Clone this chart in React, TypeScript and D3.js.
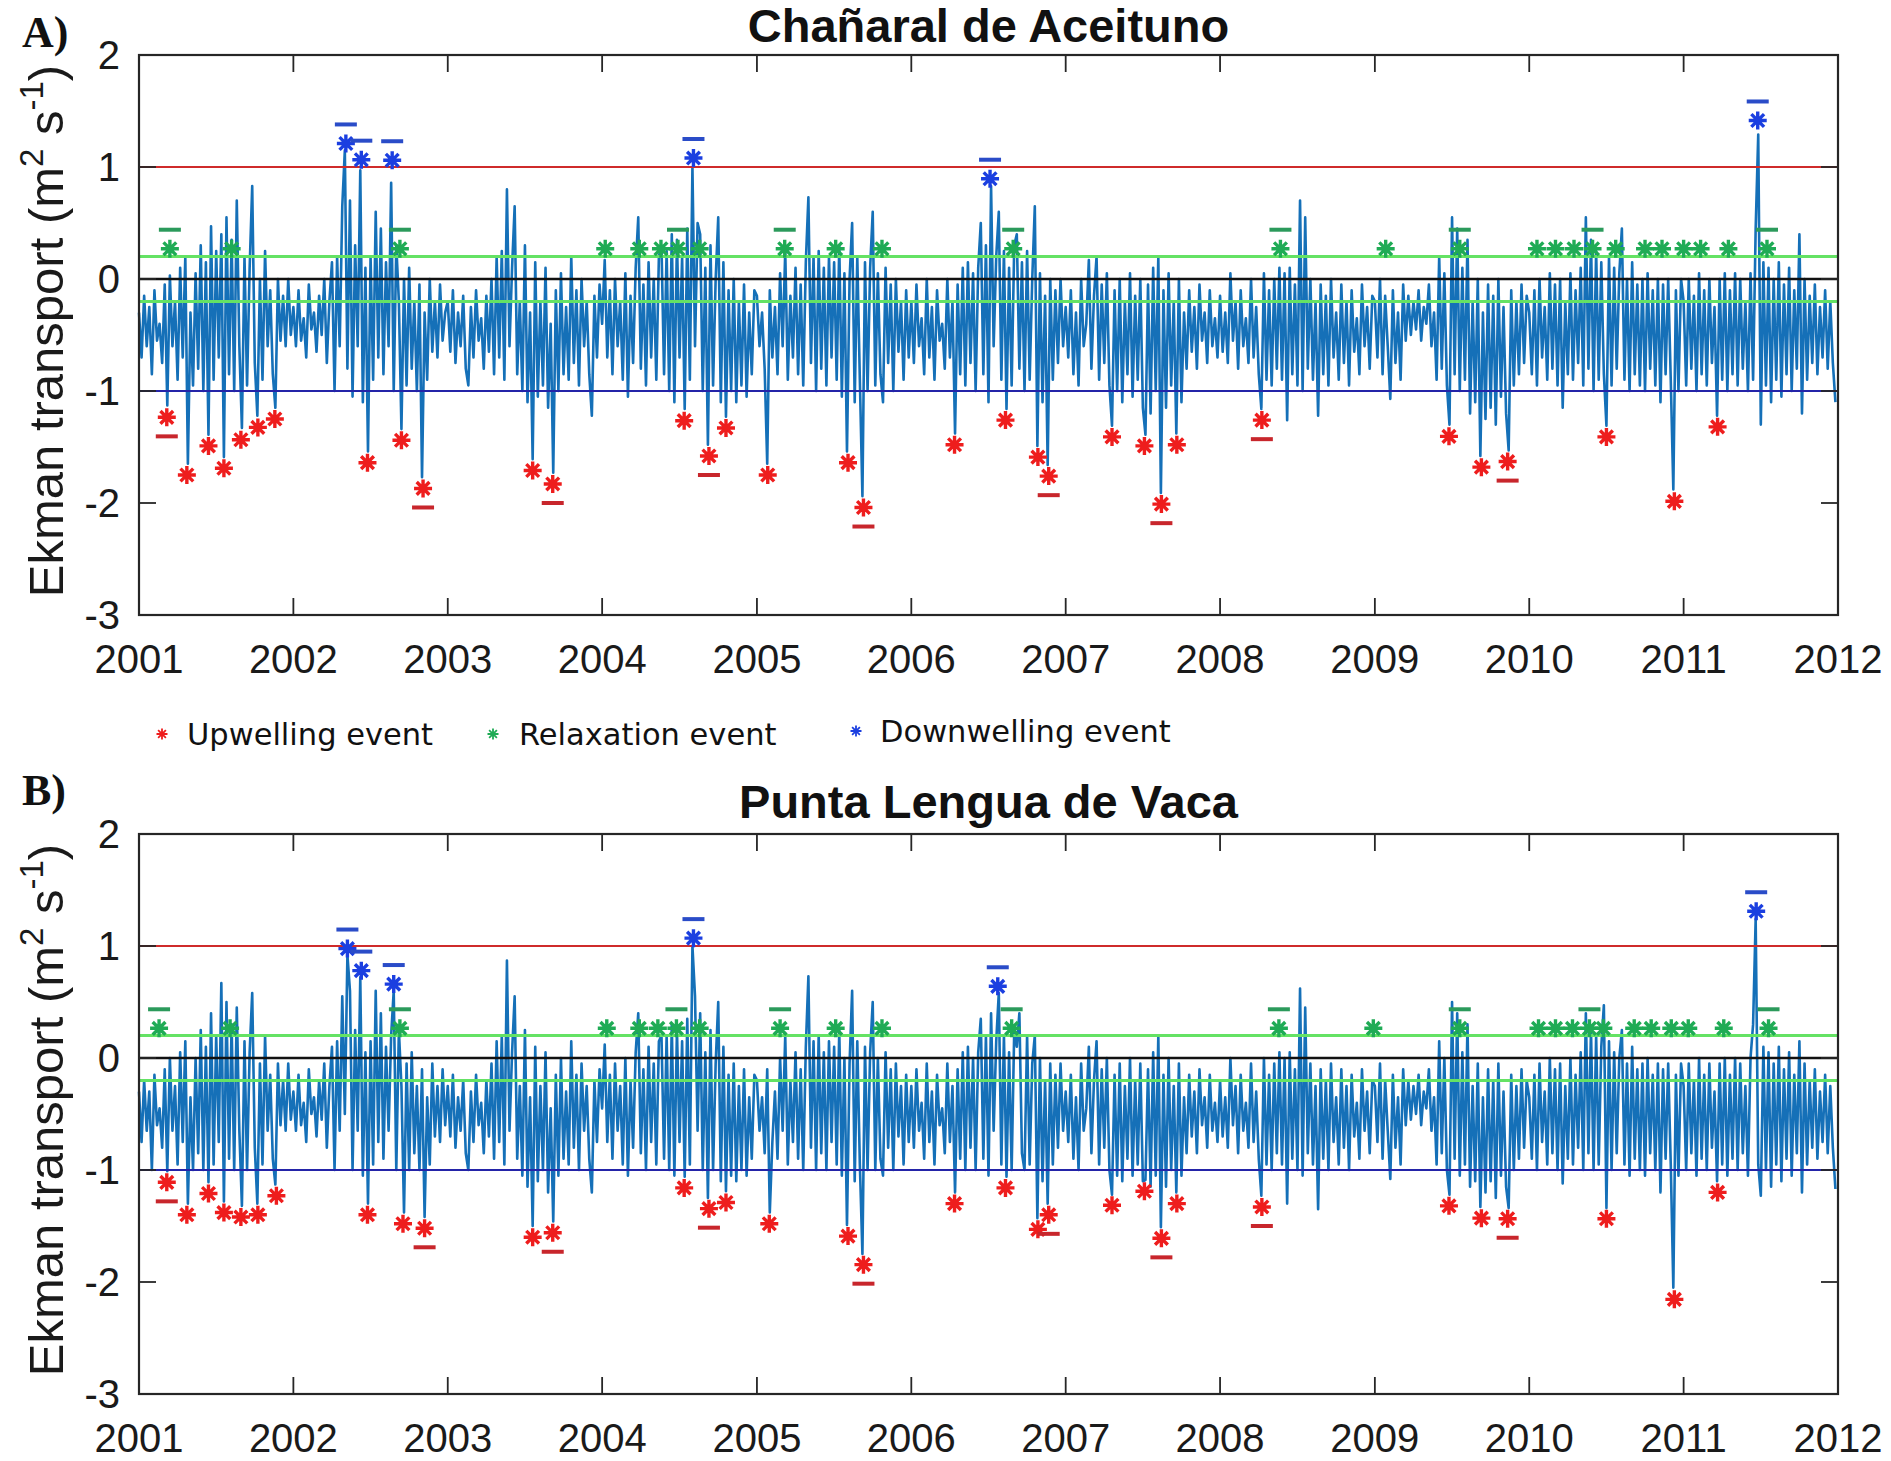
import React, { useRef, useEffect } from 'react'
import * as d3 from 'd3'

// Ekman transport, one value every 1/60 year (about 6 days), hundredths of m2 s-1
const chanaral: number[][] = [
  [-30,-70,-15,-60,-25,-85,-10,-55,-40,-75,-5,-113,3,-60,-20,-90,10,-70,20,-165,-30,-95,5,-80,30,-100,15,-139,47,-90,25,-70,40,-159,55,-85,35,-100,70,-60,-133,20,-95,10,83,-75,-122,0,-90,25,-60,-10,-85,-115,0,-55,-15,-60,0,-50],
  [-25,-60,-10,-55,-35,-70,-5,-45,-30,-65,-15,-50,0,-75,-20,15,-100,20,-60,65,115,-80,70,-105,30,-60,97,-110,10,-154,20,-90,60,-70,45,-85,15,-60,86,-100,30,-20,-134,0,-95,10,-80,-20,-100,-5,-177,-30,-90,0,-65,-20,-70,-5,-55,-30],
  [-20,-65,-10,-75,-30,-60,-15,-80,-95,-25,-70,-10,-55,-35,-80,-15,-65,0,-85,20,-70,25,-90,80,-60,10,65,-85,-20,-100,30,-110,-30,-161,15,-105,-20,-95,10,-115,-40,-173,-10,-100,5,-85,-25,-90,20,-75,-10,-95,0,-60,-20,-85,-122,-15,-70,-5],
  [-40,17,-70,-10,-85,0,-60,-20,-90,5,-105,-15,-75,10,55,-80,-5,-95,15,-70,0,-90,20,30,-85,25,-100,40,-110,35,-70,20,-116,45,-90,100,-60,50,40,-100,10,-148,30,-95,0,55,-110,15,-123,-10,-100,0,-110,-20,-95,-5,-105,-30,-85,-10],
  [-15,-60,-30,-80,-165,-10,-70,-25,-85,5,-60,25,-90,-15,-70,10,-85,-5,-95,15,73,-75,20,-100,25,-80,10,-95,20,-70,15,-90,30,-105,5,-154,0,50,-110,20,-90,-194,15,-100,10,60,-95,5,-85,-110,10,-75,-5,-100,0,-65,-20,-90,-10,-70],
  [-20,-75,-5,-60,-35,-85,0,-70,-25,-90,-10,-55,-40,-80,0,-70,-20,-138,-5,-85,10,-95,15,-75,5,-100,10,50,-85,30,-110,83,-60,20,60,-90,25,-116,10,-95,30,40,-80,15,-100,25,-90,0,65,-149,5,-110,-15,-166,0,-90,-10,-75,0,-60],
  [-25,-70,-10,-85,-30,-95,0,-60,-40,17,-80,-15,20,-90,-5,-75,5,-95,-131,-10,-100,0,-110,-20,-85,5,-105,-15,-90,0,-115,-139,-5,-120,10,-100,20,-191,-10,-115,5,-95,-20,-138,0,-110,-30,-80,-10,-65,-25,-80,-5,-55,-30,-75,-10,-60,-35,-70],
  [-15,-65,-30,-75,5,-55,-20,-80,-10,-60,-35,-75,0,-70,-25,-85,-116,5,-90,-10,-95,0,-80,10,-90,5,-126,10,-85,-5,-95,70,-100,55,-80,0,-90,-20,-122,-5,-85,-15,-95,0,-70,-30,-90,-5,-75,-20,-95,-10,-65,-35,-85,-5,-60,-25,-80,-15],
  [-20,-70,0,-85,-15,-60,-107,-10,-75,-30,-90,-5,-55,-15,-50,-20,-45,-10,-55,-25,-40,-5,-60,-30,-90,20,-80,5,-95,-130,55,-85,45,-100,10,-90,35,-120,-20,-110,0,-158,-30,-125,-5,-115,-15,-130,0,-105,-25,-120,-153,-10,-95,-20,-85,-5,-75,-15],
  [-30,-85,-10,-95,0,-70,-25,-90,5,-80,-5,-95,0,-115,-20,-85,5,-90,-10,-75,10,-95,55,-80,35,-100,25,-90,15,-85,-131,20,-95,10,-80,5,45,-90,0,-100,15,-85,-5,-95,0,-100,5,-80,-10,-95,0,-110,-5,-85,0,-90,-188,-10,-100,0],
  [-20,-95,0,-80,-15,-100,5,-85,-10,-95,0,-75,-25,-122,0,-90,5,-100,-10,-85,5,-95,0,-80,-20,-100,5,-90,45,129,-130,15,-95,10,-110,0,-90,15,-105,-5,-85,10,-100,-10,-80,40,-120,0,-90,-15,-75,-5,-85,-25,-70,-10,-80,-20,-75,-110],
]

const lenguaVaca: number[][] = [
  [-30,-75,-20,-65,-30,-100,-15,-60,-45,-80,-10,-101,0,-65,-25,-95,5,-75,15,-130,-35,-100,0,-85,25,-100,10,-111,40,-95,20,-75,67,-128,50,-90,30,-100,45,-65,-132,15,-100,5,58,-80,-130,-5,-95,20,-65,-15,-90,-113,-5,-60,-20,-65,-5,-55],
  [-30,-65,-15,-60,-40,-75,-10,-50,-35,-70,-20,-55,-5,-80,-25,10,-100,15,-65,55,-50,92,60,-100,25,-65,72,-105,5,-130,15,-95,60,-75,40,-90,10,-65,20,60,-100,25,-25,-138,-5,-100,5,-85,-25,-100,-10,-142,-35,-95,-5,-70,-25,-75,-10,-60],
  [-25,-70,-15,-80,-35,-65,-20,-85,-100,-30,-75,-15,-60,-40,-85,-20,-70,-5,-90,15,-75,20,-95,87,-65,5,55,-90,-25,-105,25,-115,-35,-150,10,-110,-25,-100,5,-120,-45,-146,-15,-105,0,-90,-30,-95,15,-80,-15,-100,-5,-65,-25,-90,-120,-20,-75,-10],
  [-45,12,-75,-15,-90,-5,-65,-25,-95,0,-105,-20,-80,5,40,-85,-10,-100,10,-75,-5,-95,15,20,-90,20,-100,30,-105,25,-75,15,-106,35,-95,100,55,-65,40,-100,5,-125,25,-100,-5,50,-110,10,-119,-15,-105,-5,-110,-25,-100,-10,-105,-35,-90,-15],
  [-20,-65,-35,-85,-10,-138,-75,-30,-90,0,-65,20,-95,-20,-75,5,-90,-10,-100,10,73,-80,15,-100,20,-85,5,-100,15,-75,10,-95,25,-105,0,-149,-5,60,-110,15,-95,-175,10,-100,5,50,-100,0,-90,-105,5,-80,-10,-100,-5,-70,-25,-95,-15,-75],
  [-25,-80,-10,-65,-40,-90,-5,-75,-30,-95,-15,-60,-45,-85,-5,-75,-25,-120,-10,-90,5,-100,10,-80,0,-100,5,35,-90,20,-105,40,-65,15,58,-95,20,-106,5,-100,25,10,40,-85,-100,20,-95,-5,20,-143,0,-110,-20,-130,-5,-95,-15,-80,-5,-65],
  [-30,-75,-15,-90,-35,-100,-5,-65,-45,10,-85,-20,15,-95,-10,-80,0,-100,-122,-15,-105,-5,-110,-25,-90,0,-105,-20,-95,-5,-110,-109,-10,-115,5,-105,20,-151,-15,-115,0,-100,-25,-120,-5,-105,-35,-85,-15,-70,-30,-85,-10,-60,-35,-80,-15,-65,-40,-75],
  [-20,-70,-35,-80,0,-60,-25,-85,-15,-65,-40,-80,-5,-75,-30,-90,-123,0,-95,-15,-100,-5,-85,5,-95,0,-130,5,-90,-10,-100,62,-105,45,-85,-5,-95,-25,-135,-10,-90,-20,-100,-5,-75,-35,-95,-10,-80,-25,-100,-15,-70,-40,-90,-10,-65,-30,-85,-20],
  [-25,-75,-5,-90,-20,-65,-108,-15,-80,-35,-95,-10,-60,-20,-55,-25,-50,-15,-60,-30,-45,-10,-65,-35,-95,15,-85,0,-100,-122,50,-90,40,-105,5,-95,30,-115,-25,-110,-5,-133,-35,-120,-10,-110,-20,-125,-5,-105,-30,-115,-134,-15,-100,-25,-90,-10,-80,-20],
  [-35,-90,-15,-100,-5,-75,-30,-95,0,-85,-10,-100,-5,-112,-25,-90,0,-95,-15,-80,5,-100,40,-85,25,-100,20,-95,10,47,-134,15,-100,5,-85,0,25,-95,-5,-105,10,-90,-10,-100,-5,-105,0,-85,-15,-100,-5,-120,-10,-90,-5,-95,-205,-15,-105,-5],
  [-25,-100,-5,-85,-20,-105,0,-90,-15,-100,-5,-80,-30,-110,-5,-95,0,-105,-15,-90,0,-100,-5,-85,-25,-105,0,30,124,-95,-123,10,-100,5,-115,-5,-95,10,-110,-10,-90,5,-105,-15,-85,15,-120,-5,-95,-20,-80,-10,-90,-30,-75,-15,-85,-25,-80,-117],
]

// events: [decimal year, marker level, flagged with a bar (1) or not (0)]
const upwellingA: number[][] = [
  [2001.18,-1.235,1],[2001.31,-1.75,0],[2001.45,-1.49,0],[2001.55,-1.69,0],[2001.66,-1.435,0],[2001.77,-1.325,0],[2001.88,-1.25,0],
  [2002.48,-1.64,0],[2002.70,-1.44,0],[2002.84,-1.87,1],[2003.55,-1.71,0],[2003.68,-1.83,1],
  [2004.53,-1.265,0],[2004.69,-1.58,1],[2004.80,-1.33,0],[2005.07,-1.75,0],[2005.59,-1.64,0],[2005.69,-2.04,1],
  [2006.28,-1.48,0],[2006.61,-1.26,0],[2006.82,-1.59,0],[2006.89,-1.76,1],
  [2007.30,-1.41,0],[2007.51,-1.49,0],[2007.62,-2.01,1],[2007.72,-1.48,0],[2008.27,-1.26,1],
  [2009.48,-1.405,0],[2009.69,-1.68,0],[2009.86,-1.63,1],[2010.50,-1.41,0],[2010.94,-1.985,0],[2011.22,-1.32,0],
]
const relaxationA: number[][] = [
  [2001.20,0.27,1],[2001.60,0.27,0],[2002.69,0.27,1],[2004.02,0.27,0],[2004.24,0.27,0],[2004.38,0.27,0],[2004.49,0.27,1],
  [2004.63,0.27,0],[2005.18,0.27,1],[2005.51,0.27,0],[2005.81,0.27,0],[2006.66,0.27,1],[2008.39,0.27,1],[2009.07,0.27,0],
  [2009.55,0.27,1],[2010.05,0.27,0],[2010.17,0.27,0],[2010.29,0.27,0],[2010.41,0.27,1],[2010.56,0.27,0],[2010.75,0.27,0],
  [2010.86,0.27,0],[2011.00,0.27,0],[2011.11,0.27,0],[2011.29,0.27,0],[2011.54,0.27,1],
]
const downwellingA: number[][] = [
  [2002.34,1.21,1],[2002.44,1.065,1],[2002.64,1.06,1],[2004.59,1.08,1],[2006.51,0.895,1],[2011.48,1.415,1],
]

const upwellingB: number[][] = [
  [2001.18,-1.11,1],[2001.31,-1.40,0],[2001.45,-1.21,0],[2001.55,-1.38,0],[2001.66,-1.42,0],[2001.77,-1.40,0],[2001.89,-1.23,0],
  [2002.48,-1.40,0],[2002.71,-1.48,0],[2002.85,-1.52,1],[2003.55,-1.60,0],[2003.68,-1.56,1],
  [2004.53,-1.16,0],[2004.69,-1.345,1],[2004.80,-1.29,0],[2005.08,-1.48,0],[2005.59,-1.59,0],[2005.69,-1.845,1],
  [2006.28,-1.30,0],[2006.61,-1.16,0],[2006.82,-1.53,0],[2006.89,-1.40,1],
  [2007.30,-1.315,0],[2007.51,-1.19,0],[2007.62,-1.61,1],[2007.72,-1.30,0],[2008.27,-1.33,1],
  [2009.48,-1.32,0],[2009.69,-1.43,0],[2009.86,-1.435,1],[2010.50,-1.435,0],[2010.94,-2.155,0],[2011.22,-1.20,0],
]
const relaxationB: number[][] = [
  [2001.13,0.265,1],[2001.59,0.265,0],[2002.69,0.265,1],[2004.03,0.265,0],[2004.24,0.265,0],[2004.36,0.265,0],[2004.48,0.265,1],
  [2004.63,0.265,0],[2005.15,0.265,1],[2005.51,0.265,0],[2005.81,0.265,0],[2006.65,0.265,1],[2008.38,0.265,1],[2008.99,0.265,0],
  [2009.55,0.265,1],[2010.06,0.265,0],[2010.17,0.265,0],[2010.28,0.265,0],[2010.39,0.265,1],[2010.48,0.265,0],[2010.68,0.265,0],
  [2010.79,0.265,0],[2010.92,0.265,0],[2011.03,0.265,0],[2011.26,0.265,0],[2011.55,0.265,1],
]
const downwellingB: number[][] = [
  [2002.35,0.977,1],[2002.44,0.78,1],[2002.65,0.66,1],[2004.59,1.07,1],[2006.56,0.64,1],[2011.47,1.31,1],
]

const yearTicks = [2001, 2002, 2003, 2004, 2005, 2006, 2007, 2008, 2009, 2010, 2011, 2012]
const valueTicks = [2, 1, 0, -1, -2, -3]
const refLevels = [1, 0.2, 0, -0.2, -1]
const legendLabels = ['Upwelling event', 'Relaxation event', 'Downwelling event']

const W = 1891
const H = 1461
const LEFT = 139
const RIGHT = 1838
const PLOT_H = 560
const BAR_OFFSET = 0.17

const C = {
  series: '#1570b8',
  axis: '#262626',
  up: '#ee1d1d',
  upBar: '#c8262c',
  relax: '#1fab55',
  relaxBar: '#2b9a5b',
  down: '#1b3fe0',
  downBar: '#2a4cc8',
}
const refStyle = [
  { color: '#cf2b2b', width: 2 },
  { color: '#64e264', width: 3 },
  { color: '#111111', width: 2.4 },
  { color: '#64e264', width: 3 },
  { color: '#2424a8', width: 2 },
]

const SANS = '"Liberation Sans", Arial, Helvetica, sans-serif'

const toDate = (yr: number) => {
  const Y = Math.floor(yr)
  const a = Date.UTC(Y, 0, 1)
  const b = Date.UTC(Y + 1, 0, 1)
  return new Date(a + (yr - Y) * (b - a))
}

// MATLAB-like '*' marker: plus and cross
const asterisk = (r: number) => {
  const d = r * Math.SQRT1_2
  return `M${-r},0H${r}M0,${-r}V${r}M${-d},${-d}L${d},${d}M${-d},${d}L${d},${-d}`
}

const panels = [
  { tag: 'A)', tagY: 47, title: 'Chañaral de Aceituno', titleY: 42, top: 55, series: chanaral, up: upwellingA, relax: relaxationA, down: downwellingA },
  { tag: 'B)', tagY: 805, title: 'Punta Lengua de Vaca', titleY: 818, top: 834, series: lenguaVaca, up: upwellingB, relax: relaxationB, down: downwellingB },
]

const App: React.FC = () => {
  const svgRef = useRef<SVGSVGElement>(null)

  useEffect(() => {
    const svg = d3.select(svgRef.current!)
    svg.selectAll('*').remove()
    svg.attr('viewBox', `0 0 ${W} ${H}`)
    svg.append('rect').attr('width', W).attr('height', H).attr('fill', '#fff')

    const x = d3
      .scaleUtc()
      .domain([toDate(yearTicks[0]), toDate(yearTicks[yearTicks.length - 1])])
      .range([LEFT, RIGHT])

    panels.forEach((p) => {
      const bottom = p.top + PLOT_H
      const y = d3.scaleLinear().domain([-3, 2]).range([bottom, p.top])
      const g = svg.append('g')

      const pts = p.series.flatMap((row, r) =>
        row.map((v, k) => ({ date: toDate(yearTicks[0] + r + k / row.length), value: v / 100 }))
      )
      const line = d3
        .line<{ date: Date; value: number }>()
        .x((d) => x(d.date))
        .y((d) => y(d.value))

      g.append('path')
        .datum(pts)
        .attr('d', line)
        .attr('fill', 'none')
        .attr('stroke', C.series)
        .attr('stroke-width', 2.6)
        .attr('stroke-linejoin', 'round')

      // threshold lines
      refLevels.forEach((lv, i) => {
        g.append('line')
          .attr('x1', LEFT)
          .attr('x2', RIGHT)
          .attr('y1', y(lv))
          .attr('y2', y(lv))
          .attr('stroke', refStyle[i].color)
          .attr('stroke-width', refStyle[i].width)
      })

      // box and inward ticks on all sides
      g.append('rect')
        .attr('x', LEFT)
        .attr('y', p.top)
        .attr('width', RIGHT - LEFT)
        .attr('height', PLOT_H)
        .attr('fill', 'none')
        .attr('stroke', C.axis)
        .attr('stroke-width', 2.2)

      yearTicks.forEach((t) => {
        const tx = x(toDate(t))
        g.append('line').attr('x1', tx).attr('x2', tx).attr('y1', p.top).attr('y2', p.top + 17).attr('stroke', C.axis).attr('stroke-width', 1.8)
        g.append('line').attr('x1', tx).attr('x2', tx).attr('y1', bottom).attr('y2', bottom - 17).attr('stroke', C.axis).attr('stroke-width', 1.8)
        g.append('text')
          .attr('x', tx)
          .attr('y', bottom + 58)
          .attr('text-anchor', 'middle')
          .style('font-family', SANS)
          .style('font-size', '40px')
          .attr('fill', '#1a1a1a')
          .text(t)
      })

      valueTicks.forEach((v) => {
        const ty = y(v)
        g.append('line').attr('x1', LEFT).attr('x2', LEFT + 17).attr('y1', ty).attr('y2', ty).attr('stroke', C.axis).attr('stroke-width', 1.8)
        g.append('line').attr('x1', RIGHT).attr('x2', RIGHT - 17).attr('y1', ty).attr('y2', ty).attr('stroke', C.axis).attr('stroke-width', 1.8)
        g.append('text')
          .attr('x', 120)
          .attr('y', ty + 14)
          .attr('text-anchor', 'end')
          .style('font-family', SANS)
          .style('font-size', '40px')
          .attr('fill', '#1a1a1a')
          .text(v)
      })

      // y label with superscripts
      const yl = g
        .append('text')
        .attr('transform', `translate(63,${p.top + 276}) rotate(-90)`)
        .attr('text-anchor', 'middle')
        .style('font-family', SANS)
        .style('font-size', '49px')
        .attr('fill', '#1a1a1a')
      yl.append('tspan').text('Ekman transport (m')
      yl.append('tspan').attr('dy', -20).style('font-size', '33px').text('2')
      yl.append('tspan').attr('dy', 20).text(' s')
      yl.append('tspan').attr('dy', -20).style('font-size', '33px').text('-1')
      yl.append('tspan').attr('dy', 20).text(')')

      // panel tag and title
      g.append('text')
        .attr('x', 22)
        .attr('y', p.tagY)
        .style('font-family', '"Liberation Serif", "Times New Roman", serif')
        .style('font-weight', 'bold')
        .style('font-size', '44px')
        .attr('fill', '#111')
        .text(p.tag)

      g.append('text')
        .attr('x', (LEFT + RIGHT) / 2)
        .attr('y', p.titleY)
        .attr('text-anchor', 'middle')
        .style('font-family', SANS)
        .style('font-weight', 'bold')
        .style('font-size', '47px')
        .attr('fill', '#111')
        .text(p.title)

      // event markers
      const drawEvents = (events: number[][], color: string, barColor: string, side: number) => {
        events.forEach(([yr, lv, bar]) => {
          const cx = x(toDate(yr))
          const cy = y(lv)
          g.append('path')
            .attr('d', asterisk(9))
            .attr('transform', `translate(${cx},${cy})`)
            .attr('fill', 'none')
            .attr('stroke', color)
            .attr('stroke-width', 3.4)
          if (bar) {
            const by = y(lv + side * BAR_OFFSET)
            g.append('line')
              .attr('x1', cx - 11)
              .attr('x2', cx + 11)
              .attr('y1', by)
              .attr('y2', by)
              .attr('stroke', barColor)
              .attr('stroke-width', 4)
          }
        })
      }
      drawEvents(p.up, C.up, C.upBar, -1)
      drawEvents(p.relax, C.relax, C.relaxBar, 1)
      drawEvents(p.down, C.down, C.downBar, 1)
    })

    // legend between the panels
    const legendPos = [
      { mx: 162, my: 734, tx: 187, ty: 745 },
      { mx: 493, my: 734, tx: 519, ty: 745 },
      { mx: 856, my: 731, tx: 880, ty: 742 },
    ]
    const legendColors = [C.up, C.relax, C.down]
    legendLabels.forEach((lab, i) => {
      const lp = legendPos[i]
      svg.append('path')
        .attr('d', asterisk(5.5))
        .attr('transform', `translate(${lp.mx},${lp.my})`)
        .attr('fill', 'none')
        .attr('stroke', legendColors[i])
        .attr('stroke-width', 1.8)
      svg.append('text')
        .attr('x', lp.tx)
        .attr('y', lp.ty)
        .style('font-family', '"DejaVu Sans", Verdana, sans-serif')
        .style('font-size', '30.5px')
        .attr('fill', '#111')
        .text(lab)
    })
  }, [])

  return (
    <svg
      ref={svgRef}
      width={W}
      height={H}
      style={{ position: 'absolute', left: 0, top: 0 }}
    />
  )
}

export default App
